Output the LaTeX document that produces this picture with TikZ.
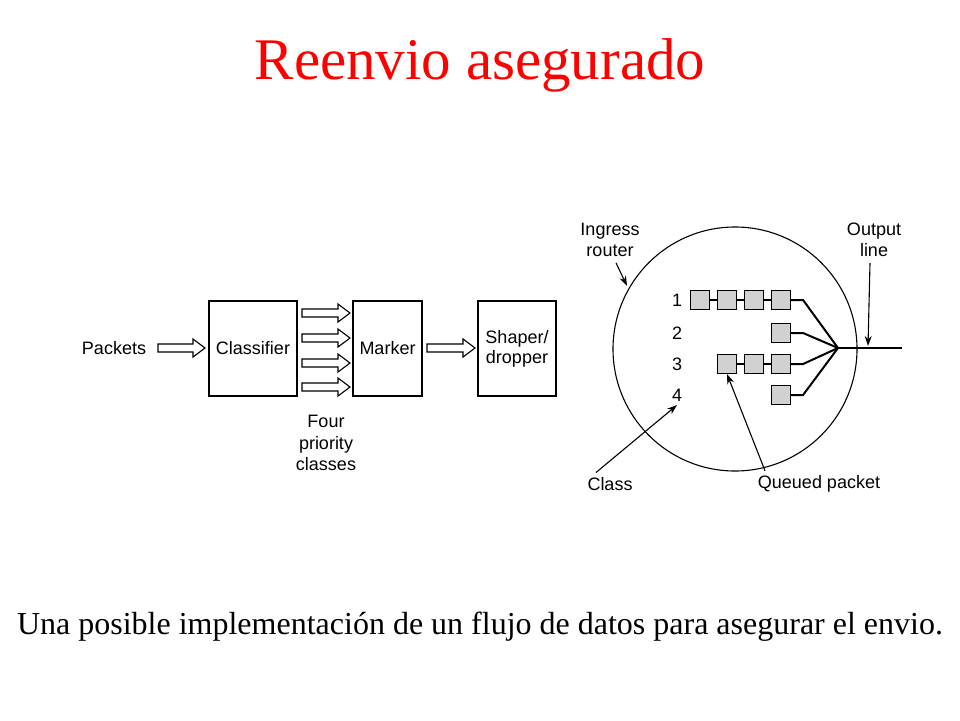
\documentclass[tikz,border=0pt]{standalone}
\usepackage{fontspec}
\setmainfont{Liberation Serif}
\setsansfont{Liberation Sans}
\usetikzlibrary{positioning,calc,arrows.meta}

% fat hollow arrow: x start, x end, y
\newcommand{\fatarrow}[3]{%
  \draw (#1,#3-4) -- (#2-12,#3-4) -- (#2-12,#3-9) -- (#2,#3) -- (#2-12,#3+9) -- (#2-12,#3+4) -- (#1,#3+4) -- cycle;}

\tikzset{
  blockbox/.style={draw, minimum width=#1, minimum height=95pt, font=\sffamily\fontsize{18}{20}\selectfont, align=center},
  lbl/.style={font=\sffamily\fontsize{18}{21.5}\selectfont, align=center},
  pkt/.style={draw, fill=black!18, minimum size=19pt, inner sep=0pt},
  ptr/.style={-{Stealth[length=10pt,width=7pt]}}
}

\begin{document}
\begin{tikzpicture}[x=1pt,y=-1pt,line width=1.1pt]
  \useasboundingbox (0,0) rectangle (960,720);
  \node[red, font=\fontsize{59}{64}\selectfont] (title) at (480,65) {Reenvio asegurado};

  % left chain
  \node[lbl] (packets) at (114,348) {Packets};
  \node[blockbox=88pt] (classifier) at (253,348.5) {Classifier};
  \node[blockbox=69pt] (marker) at (387.5,348.5) {Marker};
  \node[blockbox=78pt] (shaper) at (517,348.5) {Shaper/\\dropper};
  \fatarrow{158}{205}{348}
  \foreach \y in {313,338,363,387} {\fatarrow{302}{350}{\y}}
  \fatarrow{427}{475}{348}
  \node[lbl] (classes) at (326,443) {Four\\priority\\classes};

  % ingress router
  \node[draw, circle, minimum size=244pt] (router) at (735,349) {};
  \foreach \n/\y in {1/300,2/333,3/364,4/395} {\node[lbl] (c\n) at (677,\y) {\n};}
  \coordinate (join) at (838,348);
  \coordinate (out) at (902,348);
  \foreach \x [count=\i] in {700,727,754,781} {\node[pkt] (a\i) at (\x,300) {};}
  \node[pkt] (b1) at (781,333) {};
  \foreach \x [count=\i] in {727,754,781} {\node[pkt] (d\i) at (\x,364) {};}
  \node[pkt] (e1) at (781,395) {};
  \draw (a1) -- (a2) (a2) -- (a3) (a3) -- (a4) (d1) -- (d2) (d2) -- (d3);
  \draw[line width=2pt] (a4.east) -- ++(12,0) -- (join);
  \draw[line width=2pt] (b1.east) -- ++(12,0) -- (join);
  \draw[line width=2pt] (d3.east) -- ++(12,0) -- (join);
  \draw[line width=2pt] (e1.east) -- ++(12,0) -- (join);
  \draw[line width=2pt] (join) -- (out);

  \node[lbl] (ingress) at (610,240) {Ingress\\router};
  \node[lbl] (outline) at (874,240) {Output\\line};
  \node[lbl] (class) at (610,484) {Class};
  \node[lbl] (queued) at (819,484) {Queued packet};
  \draw[ptr] (ingress.south) ++(6,2) -- (627,286);
  \draw[ptr] (outline.south) ++(-4,2) -- (868,346);
  \draw[ptr] (class.north) ++(-14,-1) -- (c4.south);
  \draw[ptr] (queued.north) ++(-54,-1) -- (d1.south);

  \node[font=\fontsize{32}{36}\selectfont] (caption) at (480,627) {Una posible implementación de un flujo de datos para asegurar el envio.};
\end{tikzpicture}
\end{document}
